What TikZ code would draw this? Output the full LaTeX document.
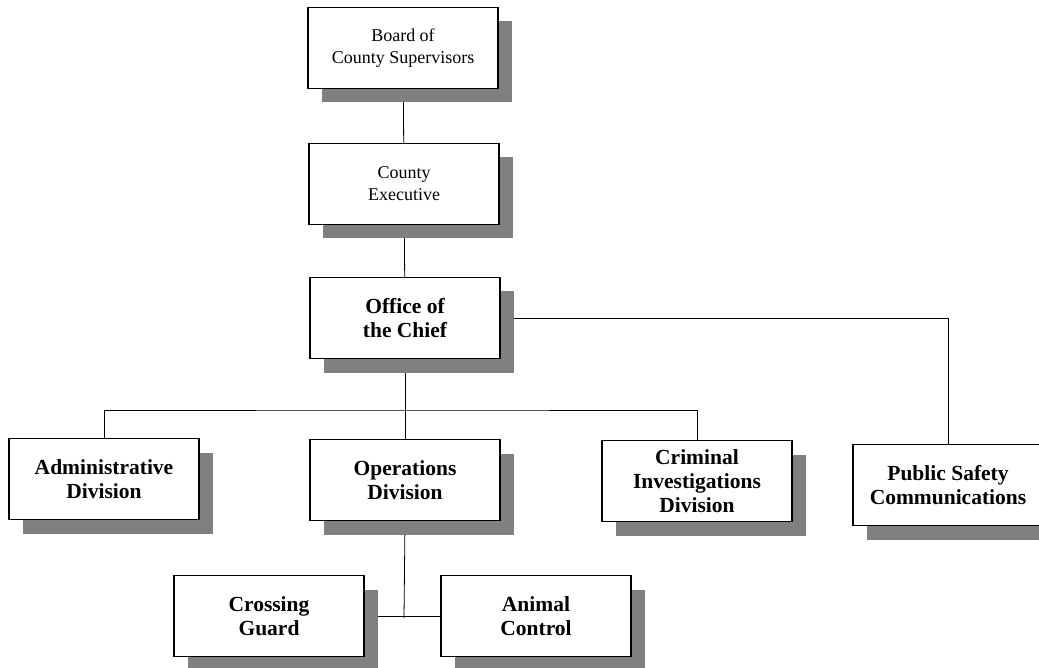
\documentclass[tikz,border=0pt]{standalone}
\usepackage{fontspec}
\setmainfont{Liberation Serif}
\usetikzlibrary{positioning,shadows,backgrounds}

\begin{document}
\begin{tikzpicture}[x=1pt, y=-1pt,
  unitbox/.style={draw, line width=1.4pt, fill=white, minimum width=190pt,
    minimum height=81pt, align=center, inner sep=2pt,
    drop shadow={shadow xshift=14pt, shadow yshift=-14pt, fill=gray, opacity=1}},
  toplevel/.style={unitbox, font=\fontsize{18}{22}\selectfont},
  division/.style={unitbox, font=\fontsize{21.5}{24}\selectfont\bfseries},
  link/.style={line width=0.8pt}]

\useasboundingbox (0,0) rectangle (1039,668);

% Top of the chain
\node[toplevel] (board) at (403, 48) {Board of\\County Supervisors};
\node[toplevel] (exec) at (404, 184) {County\\Executive};
\node[division] (chief) at (405, 318) {Office of\\the Chief};

% Divisions
\node[division] (admin) at (104, 479) {Administrative\\Division};
\node[division] (ops) at (405, 480) {Operations\\Division};
\node[division] (crim) at (697, 481) {Criminal\\Investigations\\Division};
\node[division] (psc) at (948, 485) {Public Safety\\Communications};

% Units under Operations
\node[division] (cross) at (269, 616) {Crossing\\Guard};
\node[division] (animal) at (536, 616) {Animal\\Control};

\coordinate (bus) at (404, 410);
\coordinate (jn) at (404, 618);

% Connectors
\begin{scope}[on background layer]
\draw[link] (board) -- (exec);
\draw[link] (exec) -- (chief);
\draw[link] (chief) -- (ops);
\draw[link] (admin.north) |- (bus) -| (crim.north);
\draw[link] (chief.east) -| (psc.north);
\draw[link] (ops.south) -- (jn);
\draw[link] (cross.east) -- (animal.west);
\end{scope}

\end{tikzpicture}
\end{document}
